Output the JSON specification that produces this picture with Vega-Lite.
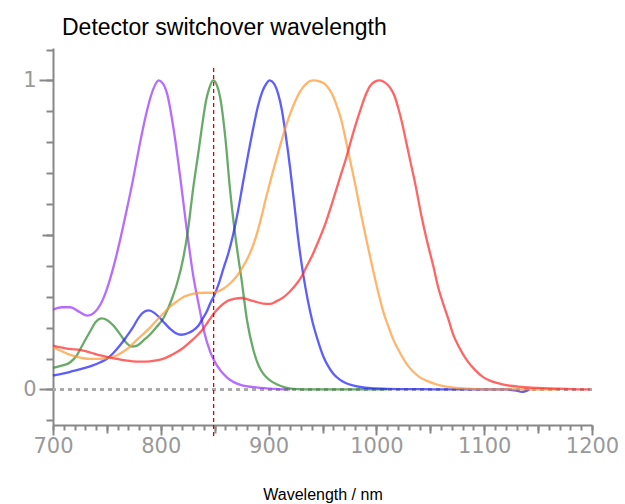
{
  "$schema": "https://vega.github.io/schema/vega-lite/v6.json",
  "width": 539,
  "height": 377,
  "autosize": "none",
  "padding": {"left": 53, "top": 48, "right": 33, "bottom": 79},
  "title": {"text": "Detector switchover wavelength", "anchor": "start", "frame": "group", "dx": 9, "offset": 8, "fontSize": 23, "font": "Liberation Sans", "fontWeight": "normal", "color": "black"},
  "config": {"view": {"stroke": null}},
  "resolve": {"axis": {"x": "independent", "y": "independent"}},
  "datasets": {
    "curves": [
      {"s": "s1", "w": 700, "v": 0.258}, {"s": "s1", "w": 708, "v": 0.266}, {"s": "s1", "w": 716, "v": 0.266}, {"s": "s1", "w": 724, "v": 0.252}, {"s": "s1", "w": 732, "v": 0.239}, {"s": "s1", "w": 738, "v": 0.248}, {"s": "s1", "w": 744, "v": 0.275}, {"s": "s1", "w": 750, "v": 0.325}, {"s": "s1", "w": 756, "v": 0.395}, {"s": "s1", "w": 762, "v": 0.48}, {"s": "s1", "w": 768, "v": 0.575}, {"s": "s1", "w": 774, "v": 0.675}, {"s": "s1", "w": 780, "v": 0.785}, {"s": "s1", "w": 786, "v": 0.885}, {"s": "s1", "w": 790, "v": 0.94}, {"s": "s1", "w": 794, "v": 0.98}, {"s": "s1", "w": 798, "v": 1.0}, {"s": "s1", "w": 802, "v": 0.99}, {"s": "s1", "w": 806, "v": 0.955}, {"s": "s1", "w": 812, "v": 0.84}, {"s": "s1", "w": 818, "v": 0.687}, {"s": "s1", "w": 824, "v": 0.52}, {"s": "s1", "w": 830, "v": 0.37}, {"s": "s1", "w": 836, "v": 0.26}, {"s": "s1", "w": 840, "v": 0.19}, {"s": "s1", "w": 846, "v": 0.12}, {"s": "s1", "w": 852, "v": 0.078}, {"s": "s1", "w": 861, "v": 0.04}, {"s": "s1", "w": 874, "v": 0.015}, {"s": "s1", "w": 890, "v": 0.006}, {"s": "s1", "w": 905, "v": 0.002}, {"s": "s1", "w": 920, "v": 0.0},
      {"s": "s2", "w": 700, "v": 0.07}, {"s": "s2", "w": 708, "v": 0.077}, {"s": "s2", "w": 716, "v": 0.088}, {"s": "s2", "w": 722, "v": 0.11}, {"s": "s2", "w": 728, "v": 0.148}, {"s": "s2", "w": 734, "v": 0.185}, {"s": "s2", "w": 740, "v": 0.22}, {"s": "s2", "w": 745, "v": 0.23}, {"s": "s2", "w": 750, "v": 0.225}, {"s": "s2", "w": 756, "v": 0.207}, {"s": "s2", "w": 762, "v": 0.18}, {"s": "s2", "w": 767, "v": 0.155}, {"s": "s2", "w": 773, "v": 0.139}, {"s": "s2", "w": 778, "v": 0.142}, {"s": "s2", "w": 784, "v": 0.159}, {"s": "s2", "w": 790, "v": 0.178}, {"s": "s2", "w": 796, "v": 0.202}, {"s": "s2", "w": 802, "v": 0.228}, {"s": "s2", "w": 806, "v": 0.256}, {"s": "s2", "w": 811, "v": 0.3}, {"s": "s2", "w": 815, "v": 0.342}, {"s": "s2", "w": 821, "v": 0.428}, {"s": "s2", "w": 825, "v": 0.51}, {"s": "s2", "w": 830, "v": 0.65}, {"s": "s2", "w": 835, "v": 0.77}, {"s": "s2", "w": 839, "v": 0.87}, {"s": "s2", "w": 842, "v": 0.935}, {"s": "s2", "w": 845, "v": 0.975}, {"s": "s2", "w": 848.5, "v": 1.0}, {"s": "s2", "w": 852, "v": 0.985}, {"s": "s2", "w": 855, "v": 0.946}, {"s": "s2", "w": 860, "v": 0.81}, {"s": "s2", "w": 864, "v": 0.655}, {"s": "s2", "w": 869, "v": 0.5}, {"s": "s2", "w": 875, "v": 0.353}, {"s": "s2", "w": 880, "v": 0.223}, {"s": "s2", "w": 886, "v": 0.126}, {"s": "s2", "w": 891, "v": 0.075}, {"s": "s2", "w": 895, "v": 0.051}, {"s": "s2", "w": 901, "v": 0.03}, {"s": "s2", "w": 908, "v": 0.016}, {"s": "s2", "w": 915, "v": 0.007}, {"s": "s2", "w": 923, "v": 0.002}, {"s": "s2", "w": 940, "v": 0.0}, {"s": "s2", "w": 1010, "v": 0.0},
      {"s": "s3", "w": 700, "v": 0.045}, {"s": "s3", "w": 710, "v": 0.052}, {"s": "s3", "w": 719, "v": 0.06}, {"s": "s3", "w": 728, "v": 0.068}, {"s": "s3", "w": 737, "v": 0.078}, {"s": "s3", "w": 744, "v": 0.088}, {"s": "s3", "w": 750, "v": 0.099}, {"s": "s3", "w": 756, "v": 0.118}, {"s": "s3", "w": 762, "v": 0.142}, {"s": "s3", "w": 768, "v": 0.17}, {"s": "s3", "w": 774, "v": 0.2}, {"s": "s3", "w": 780, "v": 0.235}, {"s": "s3", "w": 785, "v": 0.252}, {"s": "s3", "w": 789, "v": 0.256}, {"s": "s3", "w": 794, "v": 0.248}, {"s": "s3", "w": 799, "v": 0.232}, {"s": "s3", "w": 804, "v": 0.213}, {"s": "s3", "w": 809, "v": 0.195}, {"s": "s3", "w": 814, "v": 0.182}, {"s": "s3", "w": 819, "v": 0.177}, {"s": "s3", "w": 825, "v": 0.182}, {"s": "s3", "w": 830, "v": 0.191}, {"s": "s3", "w": 835, "v": 0.207}, {"s": "s3", "w": 839, "v": 0.23}, {"s": "s3", "w": 843, "v": 0.255}, {"s": "s3", "w": 846, "v": 0.28}, {"s": "s3", "w": 849, "v": 0.3}, {"s": "s3", "w": 854, "v": 0.345}, {"s": "s3", "w": 858, "v": 0.39}, {"s": "s3", "w": 863, "v": 0.445}, {"s": "s3", "w": 867, "v": 0.5}, {"s": "s3", "w": 872, "v": 0.585}, {"s": "s3", "w": 876, "v": 0.665}, {"s": "s3", "w": 881, "v": 0.76}, {"s": "s3", "w": 886, "v": 0.85}, {"s": "s3", "w": 890, "v": 0.915}, {"s": "s3", "w": 894, "v": 0.962}, {"s": "s3", "w": 898, "v": 0.99}, {"s": "s3", "w": 901, "v": 1.0}, {"s": "s3", "w": 905, "v": 0.99}, {"s": "s3", "w": 909, "v": 0.955}, {"s": "s3", "w": 912, "v": 0.91}, {"s": "s3", "w": 915, "v": 0.845}, {"s": "s3", "w": 918, "v": 0.77}, {"s": "s3", "w": 920, "v": 0.715}, {"s": "s3", "w": 924, "v": 0.595}, {"s": "s3", "w": 927, "v": 0.5}, {"s": "s3", "w": 932, "v": 0.375}, {"s": "s3", "w": 936, "v": 0.295}, {"s": "s3", "w": 941, "v": 0.215}, {"s": "s3", "w": 946, "v": 0.155}, {"s": "s3", "w": 951, "v": 0.105}, {"s": "s3", "w": 955, "v": 0.077}, {"s": "s3", "w": 960, "v": 0.051}, {"s": "s3", "w": 966, "v": 0.032}, {"s": "s3", "w": 972, "v": 0.02}, {"s": "s3", "w": 978, "v": 0.013}, {"s": "s3", "w": 985, "v": 0.008}, {"s": "s3", "w": 995, "v": 0.004}, {"s": "s3", "w": 1010, "v": 0.002}, {"s": "s3", "w": 1040, "v": 0.001}, {"s": "s3", "w": 1080, "v": 0.0}, {"s": "s3", "w": 1120, "v": 0.0}, {"s": "s3", "w": 1130, "v": -0.004}, {"s": "s3", "w": 1135, "v": -0.008}, {"s": "s3", "w": 1142, "v": 0.0},
      {"s": "s4", "w": 700, "v": 0.137}, {"s": "s4", "w": 706, "v": 0.127}, {"s": "s4", "w": 713, "v": 0.116}, {"s": "s4", "w": 720, "v": 0.108}, {"s": "s4", "w": 728, "v": 0.101}, {"s": "s4", "w": 736, "v": 0.099}, {"s": "s4", "w": 744, "v": 0.099}, {"s": "s4", "w": 752, "v": 0.103}, {"s": "s4", "w": 759, "v": 0.11}, {"s": "s4", "w": 765, "v": 0.122}, {"s": "s4", "w": 771, "v": 0.137}, {"s": "s4", "w": 777, "v": 0.158}, {"s": "s4", "w": 784, "v": 0.18}, {"s": "s4", "w": 790, "v": 0.2}, {"s": "s4", "w": 796, "v": 0.223}, {"s": "s4", "w": 802, "v": 0.245}, {"s": "s4", "w": 808, "v": 0.266}, {"s": "s4", "w": 815, "v": 0.285}, {"s": "s4", "w": 821, "v": 0.299}, {"s": "s4", "w": 827, "v": 0.307}, {"s": "s4", "w": 833, "v": 0.312}, {"s": "s4", "w": 840, "v": 0.313}, {"s": "s4", "w": 846, "v": 0.313}, {"s": "s4", "w": 852, "v": 0.316}, {"s": "s4", "w": 858, "v": 0.326}, {"s": "s4", "w": 864, "v": 0.342}, {"s": "s4", "w": 870, "v": 0.365}, {"s": "s4", "w": 876, "v": 0.396}, {"s": "s4", "w": 882, "v": 0.435}, {"s": "s4", "w": 887, "v": 0.48}, {"s": "s4", "w": 892, "v": 0.54}, {"s": "s4", "w": 898, "v": 0.625}, {"s": "s4", "w": 904, "v": 0.705}, {"s": "s4", "w": 910, "v": 0.78}, {"s": "s4", "w": 915, "v": 0.84}, {"s": "s4", "w": 920, "v": 0.892}, {"s": "s4", "w": 925, "v": 0.935}, {"s": "s4", "w": 929, "v": 0.963}, {"s": "s4", "w": 935, "v": 0.99}, {"s": "s4", "w": 941, "v": 1.0}, {"s": "s4", "w": 948, "v": 0.996}, {"s": "s4", "w": 954, "v": 0.982}, {"s": "s4", "w": 959, "v": 0.955}, {"s": "s4", "w": 963, "v": 0.92}, {"s": "s4", "w": 968, "v": 0.865}, {"s": "s4", "w": 972, "v": 0.8}, {"s": "s4", "w": 976, "v": 0.735}, {"s": "s4", "w": 982, "v": 0.635}, {"s": "s4", "w": 985, "v": 0.58}, {"s": "s4", "w": 988, "v": 0.53}, {"s": "s4", "w": 991, "v": 0.48}, {"s": "s4", "w": 997, "v": 0.385}, {"s": "s4", "w": 1002, "v": 0.31}, {"s": "s4", "w": 1006, "v": 0.256}, {"s": "s4", "w": 1011, "v": 0.205}, {"s": "s4", "w": 1016, "v": 0.159}, {"s": "s4", "w": 1022, "v": 0.118}, {"s": "s4", "w": 1028, "v": 0.083}, {"s": "s4", "w": 1034, "v": 0.058}, {"s": "s4", "w": 1040, "v": 0.04}, {"s": "s4", "w": 1048, "v": 0.026}, {"s": "s4", "w": 1056, "v": 0.016}, {"s": "s4", "w": 1065, "v": 0.009}, {"s": "s4", "w": 1075, "v": 0.005}, {"s": "s4", "w": 1088, "v": 0.002}, {"s": "s4", "w": 1110, "v": 0.0}, {"s": "s4", "w": 1168, "v": 0.0},
      {"s": "s5", "w": 700, "v": 0.142}, {"s": "s5", "w": 706, "v": 0.137}, {"s": "s5", "w": 713, "v": 0.132}, {"s": "s5", "w": 720, "v": 0.13}, {"s": "s5", "w": 728, "v": 0.126}, {"s": "s5", "w": 736, "v": 0.118}, {"s": "s5", "w": 744, "v": 0.11}, {"s": "s5", "w": 752, "v": 0.104}, {"s": "s5", "w": 759, "v": 0.099}, {"s": "s5", "w": 767, "v": 0.094}, {"s": "s5", "w": 774, "v": 0.091}, {"s": "s5", "w": 782, "v": 0.09}, {"s": "s5", "w": 790, "v": 0.091}, {"s": "s5", "w": 796, "v": 0.094}, {"s": "s5", "w": 802, "v": 0.099}, {"s": "s5", "w": 808, "v": 0.108}, {"s": "s5", "w": 815, "v": 0.121}, {"s": "s5", "w": 821, "v": 0.135}, {"s": "s5", "w": 827, "v": 0.153}, {"s": "s5", "w": 833, "v": 0.172}, {"s": "s5", "w": 839, "v": 0.195}, {"s": "s5", "w": 845, "v": 0.225}, {"s": "s5", "w": 849, "v": 0.245}, {"s": "s5", "w": 855, "v": 0.268}, {"s": "s5", "w": 861, "v": 0.285}, {"s": "s5", "w": 868, "v": 0.293}, {"s": "s5", "w": 875, "v": 0.296}, {"s": "s5", "w": 882, "v": 0.29}, {"s": "s5", "w": 889, "v": 0.283}, {"s": "s5", "w": 895, "v": 0.278}, {"s": "s5", "w": 901, "v": 0.277}, {"s": "s5", "w": 907, "v": 0.285}, {"s": "s5", "w": 914, "v": 0.299}, {"s": "s5", "w": 920, "v": 0.318}, {"s": "s5", "w": 926, "v": 0.342}, {"s": "s5", "w": 931, "v": 0.368}, {"s": "s5", "w": 935, "v": 0.396}, {"s": "s5", "w": 940, "v": 0.43}, {"s": "s5", "w": 946, "v": 0.478}, {"s": "s5", "w": 952, "v": 0.53}, {"s": "s5", "w": 960, "v": 0.615}, {"s": "s5", "w": 966, "v": 0.683}, {"s": "s5", "w": 972, "v": 0.75}, {"s": "s5", "w": 976, "v": 0.8}, {"s": "s5", "w": 980, "v": 0.848}, {"s": "s5", "w": 985, "v": 0.903}, {"s": "s5", "w": 990, "v": 0.953}, {"s": "s5", "w": 994, "v": 0.982}, {"s": "s5", "w": 999, "v": 0.997}, {"s": "s5", "w": 1003, "v": 1.0}, {"s": "s5", "w": 1008, "v": 0.993}, {"s": "s5", "w": 1013, "v": 0.975}, {"s": "s5", "w": 1017, "v": 0.948}, {"s": "s5", "w": 1020, "v": 0.914}, {"s": "s5", "w": 1024, "v": 0.86}, {"s": "s5", "w": 1028, "v": 0.795}, {"s": "s5", "w": 1032, "v": 0.73}, {"s": "s5", "w": 1036, "v": 0.666}, {"s": "s5", "w": 1042, "v": 0.558}, {"s": "s5", "w": 1047, "v": 0.48}, {"s": "s5", "w": 1053, "v": 0.396}, {"s": "s5", "w": 1057, "v": 0.335}, {"s": "s5", "w": 1062, "v": 0.277}, {"s": "s5", "w": 1067, "v": 0.225}, {"s": "s5", "w": 1071, "v": 0.18}, {"s": "s5", "w": 1077, "v": 0.135}, {"s": "s5", "w": 1084, "v": 0.094}, {"s": "s5", "w": 1091, "v": 0.065}, {"s": "s5", "w": 1099, "v": 0.04}, {"s": "s5", "w": 1107, "v": 0.026}, {"s": "s5", "w": 1115, "v": 0.018}, {"s": "s5", "w": 1124, "v": 0.012}, {"s": "s5", "w": 1135, "v": 0.008}, {"s": "s5", "w": 1150, "v": 0.005}, {"s": "s5", "w": 1165, "v": 0.003}, {"s": "s5", "w": 1180, "v": 0.001}, {"s": "s5", "w": 1198, "v": 0.0}
    ],
    "zero": [{"v": 0}],
    "switch": [{"w": 849, "top": 1.04, "bottom": -0.155}]
  },
  "layer": [
    {
      "data": {"name": "zero"},
      "mark": {"type": "rule", "color": "#aaaaaa", "strokeWidth": 3, "strokeDash": [4, 4]},
      "encoding": {
        "y": {"field": "v", "type": "quantitative", "scale": {"domain": [-0.115, 1.105], "nice": false, "zero": false},
          "axis": {"orient": "left", "values": [-0.1, 0, 0.1, 0.2, 0.3, 0.4, 0.5, 0.6, 0.7, 0.8, 0.9, 1, 1.1], "labels": false, "tickSize": 7,
            "domainColor": "#888888", "domainWidth": 2, "tickColor": "#888888", "tickWidth": 2, "grid": false, "title": null}
        }
      }
    },
    {
      "data": {"name": "switch"},
      "mark": {"type": "rule", "opacity": 0},
      "encoding": {
        "x": {"field": "w", "type": "quantitative", "scale": {"domain": [700, 1200], "nice": false, "zero": false},
          "axis": {"orient": "bottom", "values": [700, 710, 720, 730, 740, 750, 760, 770, 780, 790, 800, 810, 820, 830, 840, 850, 860, 870, 880, 890, 900, 910, 920, 930, 940, 950, 960, 970, 980, 990, 1000, 1010, 1020, 1030, 1040, 1050, 1060, 1070, 1080, 1090, 1100, 1110, 1120, 1130, 1140, 1150, 1160, 1170, 1180, 1190, 1200], "labels": false, "tickSize": 5,
            "domainColor": "#888888", "domainWidth": 2, "tickColor": "#888888", "tickWidth": 2, "grid": false, "title": null}
        },
        "y": {"field": "top", "type": "quantitative",
          "axis": {"orient": "left", "values": [0.5], "labels": false, "tickSize": 11, "domain": false,
            "tickColor": "#888888", "tickWidth": 2, "grid": false, "title": null}
        }
      }
    },
    {
      "data": {"name": "switch"},
      "mark": {"type": "rule", "opacity": 0},
      "encoding": {
        "x": {"field": "w", "type": "quantitative",
          "axis": {"orient": "bottom", "values": [750, 850, 950, 1050, 1150], "labels": false, "tickSize": 8, "domain": false,
            "tickColor": "#888888", "tickWidth": 2, "grid": false, "title": null}
        },
        "y": {"field": "top", "type": "quantitative", "axis": null}
      }
    },
    {
      "data": {"name": "curves"},
      "mark": {"type": "line", "strokeWidth": 2.3, "opacity": 0.72, "interpolate": "monotone"},
      "encoding": {
        "x": {"field": "w", "type": "quantitative",
          "axis": {"orient": "bottom", "values": [700, 800, 900, 1000, 1100, 1200], "format": "d", "tickSize": 10, "domain": false,
            "tickColor": "#888888", "tickWidth": 2,
            "labelFont": "DejaVu Sans", "labelFontSize": 21, "labelColor": "#999999", "labelPadding": 0,
            "labelOverlap": false, "labelFlush": false, "grid": false,
            "title": "Wavelength / nm", "titleFont": "Liberation Sans", "titleFontSize": 16, "titleFontWeight": "normal", "titleColor": "black", "titlePadding": 30}
        },
        "y": {"field": "v", "type": "quantitative",
          "axis": {"orient": "left", "values": [0, 1], "format": "d", "tickSize": 14, "domain": false,
            "tickColor": "#888888", "tickWidth": 2,
            "labelFont": "DejaVu Sans", "labelFontSize": 21, "labelColor": "#999999", "labelPadding": 3,
            "labelOverlap": false, "labelFlush": false, "grid": false, "title": null}
        },
        "color": {"field": "s", "type": "nominal", "scale": {"domain": ["s1", "s2", "s3", "s4", "s5"], "range": ["#9933ff", "#2e8b2e", "#2020ff", "#ff9933", "#ff2a2a"]}, "legend": null}
      }
    },
    {
      "data": {"name": "switch"},
      "mark": {"type": "rule", "color": "#e00000", "strokeWidth": 1.3, "strokeDash": [4, 3], "clip": false},
      "encoding": {
        "x": {"field": "w", "type": "quantitative", "axis": null},
        "y": {"field": "top", "type": "quantitative", "axis": null},
        "y2": {"field": "bottom"}
      }
    }
  ]
}
